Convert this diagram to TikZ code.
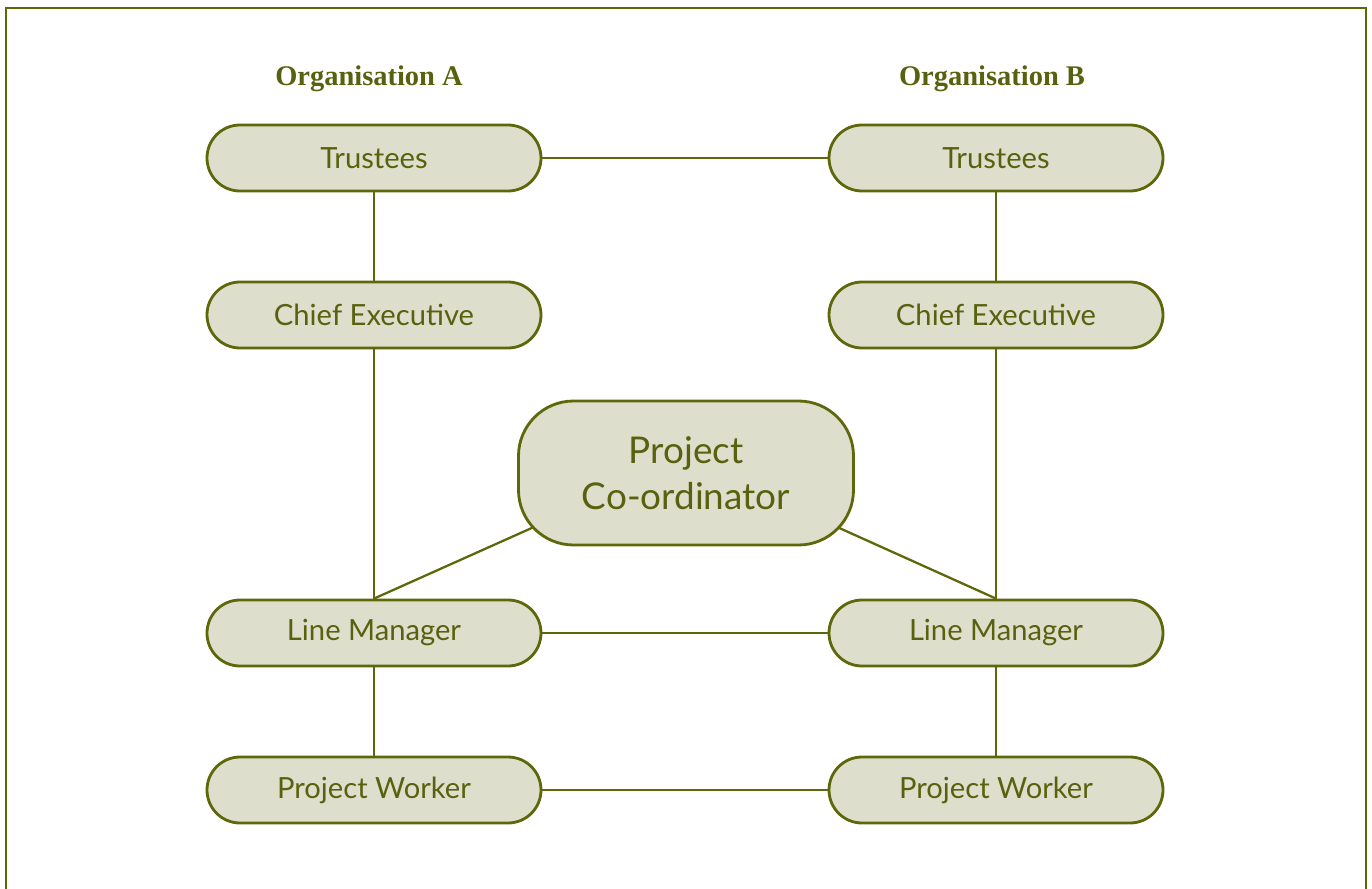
\documentclass[tikz,border=0pt]{standalone}
\usepackage{fontspec}
\setmainfont{Lato}
\newfontfamily\headfont{Liberation Serif}
\usetikzlibrary{backgrounds}

\definecolor{orgline}{RGB}{94,104,10}
\definecolor{orgfill}{RGB}{221,223,204}
\definecolor{orgtext}{RGB}{88,98,14}

\begin{document}
\begin{tikzpicture}[
    role/.style={draw=orgline, fill=orgfill, line width=1.6pt, rounded corners=0.66cm,
        minimum width=6.68cm, minimum height=1.32cm, text=orgtext,
        font=\fontsize{16.6}{19}\selectfont},
    hub/.style={draw=orgline, fill=orgfill, line width=1.6pt, rounded corners=1.1cm,
        minimum width=6.7cm, minimum height=2.88cm, text=orgtext, align=center,
        font=\fontsize{21}{26}\selectfont},
    orghead/.style={text=orgtext, font=\headfont\bfseries\fontsize{16.2}{19}\selectfont},
    link/.style={draw=orgline, line width=1.3pt}
]
    \useasboundingbox (0,0) rectangle (27.44,-17.78);
    % outer frame, open at the bottom
    \draw[orgline, line width=0.8pt] (0.12,-17.9) -- (0.12,-0.16) -- (27.32,-0.16) -- (27.32,-17.9);

    % Headings
    \node[orghead] (headA) at (7.38,-1.58) {Organisation A};
    \node[orghead] (headB) at (19.84,-1.58) {Organisation B};

    % Organisation A
    \node[role] (trustA) at (7.48,-3.16) {Trustees};
    \node[role] (chiefA) at (7.48,-6.30) {Chief Executive};
    \node[role] (lineA) at (7.48,-12.66) {Line Manager};
    \node[role] (workA) at (7.48,-15.80) {Project Worker};

    % Organisation B
    \node[role] (trustB) at (19.92,-3.16) {Trustees};
    \node[role] (chiefB) at (19.92,-6.30) {Chief Executive};
    \node[role] (lineB) at (19.92,-12.66) {Line Manager};
    \node[role] (workB) at (19.92,-15.80) {Project Worker};

    % Shared post
    \node[hub] (coord) at (13.72,-9.46) {Project\\Co-ordinator};

    % Connections
    \begin{scope}[on background layer]
        \draw[link] (trustA) -- (trustB);
        \draw[link] (trustA) -- (chiefA) -- (lineA) -- (workA);
        \draw[link] (trustB) -- (chiefB) -- (lineB) -- (workB);
        \draw[link] (lineA) -- (lineB);
        \draw[link] (workA) -- (workB);
        \draw[link] (lineA.north) -- ([yshift=8pt]coord.center);
        \draw[link] (lineB.north) -- ([yshift=8pt]coord.center);
    \end{scope}
\end{tikzpicture}
\end{document}
